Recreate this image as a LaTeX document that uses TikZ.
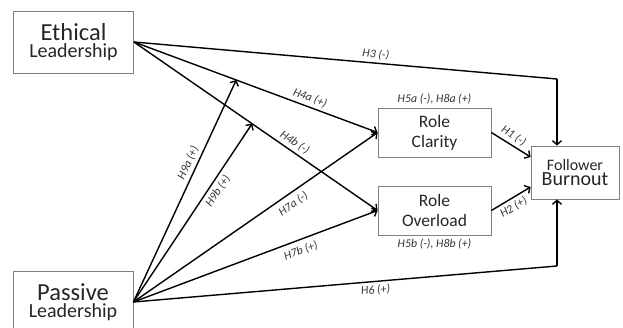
\documentclass[tikz,border=0pt]{standalone}
\usepackage{fontspec}
\setmainfont{Carlito}
\usetikzlibrary{arrows.meta}

\begin{document}
\begin{tikzpicture}[x=1pt, y=-1pt, line width=1.4pt]
\tikzstyle{lead_box}=[rectangle, draw=gray, line width=0.8pt, minimum width=120pt, minimum height=62pt, align=center, text=black!85, inner sep=0pt]
\tikzstyle{role_box}=[rectangle, draw=gray, line width=0.8pt, minimum width=113pt, minimum height=49pt, align=center, text=black!85, inner sep=0pt, font=\fontsize{17.5}{20}\selectfont]
\tikzstyle{hyp}=[font=\fontsize{11.8}{13}\itshape, text=black!80, inner sep=3pt]
\tikzstyle{arr}=[-{Straight Barb[length=4pt, width=9pt]}]
%
\useasboundingbox (0,0) rectangle (623,328);
\begin{scope}

\node [lead_box] (eth) at (73.5,42) {{\fontsize{24.5}{27}\selectfont Ethical}\\[2pt]{\fontsize{20}{22}\selectfont Leadership}};
\node [lead_box] (pass) at (73,302) {{\fontsize{24.5}{27}\selectfont Passive}\\[2pt]{\fontsize{20}{22}\selectfont Leadership}};
\node [role_box] (clar) at (434.5,132.5) {Role\\Clarity};
\node [role_box] (over) at (434.5,210.5) {Role\\Overload};
\node [lead_box, minimum width=88pt, minimum height=53pt] (burn) at (575,172.5) {{\fontsize{16}{19}\selectfont Follower}\\[1pt]{\fontsize{20}{22}\selectfont Burnout}};
\node [hyp, above=0pt] (lab5a) at (clar.north) {H5a (-), H8a (+)};
\node [hyp, below=0pt] (lab5b) at (over.south) {H5b (-), H8b (+)};

\coordinate (c3) at (557,79);
\coordinate (c6) at (557,266);

% ethical leadership
\draw (eth.east) -- node [hyp, sloped, above, pos=0.57] {H3 (-)} (c3);
\draw [arr] (c3) -- (c3 |- burn.north);
\draw [arr] (eth.east) -- node [hyp, sloped, above, pos=0.71] {H4a (+)} coordinate [pos=0.42] (t9a) (clar.west);
\draw [arr] (eth.east) -- node [hyp, sloped, above, pos=0.64] {H4b (-)} coordinate [pos=0.485] (t9b) (over.west);

% passive leadership
\draw (pass.east) -- node [hyp, sloped, below, pos=0.57] {H6 (+)} (c6);
\draw [arr] (c6) -- (c6 |- burn.south);
\draw [arr] (pass.east) -- node [hyp, sloped, below=2pt, pos=0.63] {H7a (-)} (clar.west);
\draw [arr] (pass.east) -- node [hyp, sloped, below=2pt, pos=0.67] {H7b (+)} (over.west);
\draw [arr] (pass.east) -- node [hyp, sloped, above, pos=0.61] {H9a (+)} (t9a);
\draw [arr] (pass.east) -- node [hyp, sloped, below, pos=0.65] {H9b (+)} (t9b);

% mediators
\draw [arr] (clar.east) -- node [hyp, sloped, above, pos=0.45] {H1 (-)} ([yshift=15.5pt]burn.west);
\draw [arr] (over.east) -- node [hyp, sloped, below, pos=0.45] {H2 (+)} ([yshift=-14.5pt]burn.west);

\end{scope}
%
\end{tikzpicture}
\end{document}
